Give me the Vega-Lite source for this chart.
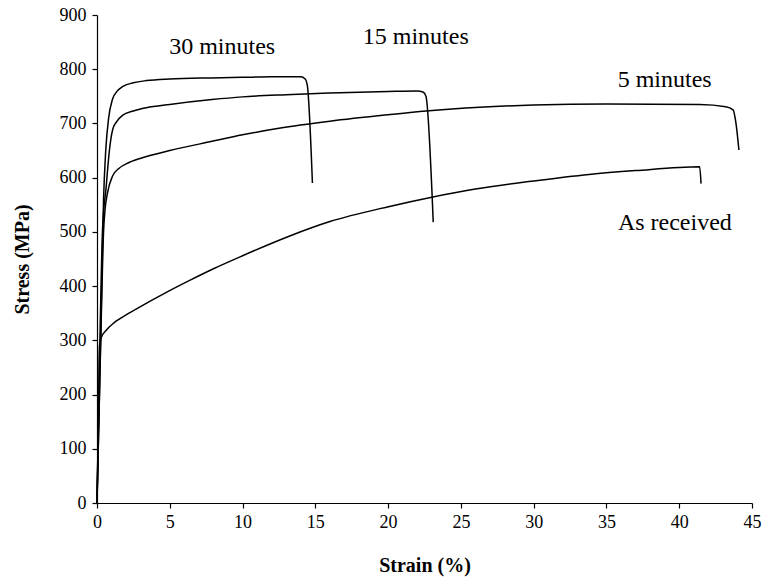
{
  "$schema": "https://vega.github.io/schema/vega-lite/v6.json",
  "width": 655,
  "height": 488,
  "autosize": {"type": "none"},
  "padding": {"left": 97, "top": 15, "right": 13, "bottom": 78},
  "background": "white",
  "config": {
    "view": {"stroke": null},
    "axis": {
      "grid": false,
      "domainColor": "black",
      "domainWidth": 1.2,
      "tickColor": "black",
      "tickWidth": 1.2,
      "tickSize": 5,
      "labelFont": "Times New Roman, Liberation Serif, serif",
      "labelFontSize": 18,
      "labelColor": "black",
      "titleFont": "Times New Roman, Liberation Serif, serif",
      "titleFontSize": 20,
      "titleFontWeight": "bold",
      "titleColor": "black",
      "labelFlush": false,
      "labelOverlap": false
    }
  },
  "datasets": {
    "curves": [
      {"series": "30 minutes", "strain": 0, "stress": 0},
      {"series": "30 minutes", "strain": 0.25, "stress": 300},
      {"series": "30 minutes", "strain": 0.45, "stress": 560},
      {"series": "30 minutes", "strain": 0.6, "stress": 650},
      {"series": "30 minutes", "strain": 0.8, "stress": 710},
      {"series": "30 minutes", "strain": 1.07, "stress": 745},
      {"series": "30 minutes", "strain": 1.4, "stress": 760},
      {"series": "30 minutes", "strain": 1.75, "stress": 768},
      {"series": "30 minutes", "strain": 2.5, "stress": 775},
      {"series": "30 minutes", "strain": 3.4, "stress": 779},
      {"series": "30 minutes", "strain": 5, "stress": 782},
      {"series": "30 minutes", "strain": 7.9, "stress": 784},
      {"series": "30 minutes", "strain": 10, "stress": 785},
      {"series": "30 minutes", "strain": 12, "stress": 786},
      {"series": "30 minutes", "strain": 14.0, "stress": 786},
      {"series": "30 minutes", "strain": 14.3, "stress": 782},
      {"series": "30 minutes", "strain": 14.45, "stress": 770},
      {"series": "30 minutes", "strain": 14.8, "stress": 590},

      {"series": "15 minutes", "strain": 0, "stress": 0},
      {"series": "15 minutes", "strain": 0.2, "stress": 300},
      {"series": "15 minutes", "strain": 0.38, "stress": 504},
      {"series": "15 minutes", "strain": 0.63, "stress": 583},
      {"series": "15 minutes", "strain": 0.85, "stress": 650},
      {"series": "15 minutes", "strain": 1.07, "stress": 688},
      {"series": "15 minutes", "strain": 1.34, "stress": 703},
      {"series": "15 minutes", "strain": 1.75, "stress": 715},
      {"series": "15 minutes", "strain": 2.5, "stress": 723},
      {"series": "15 minutes", "strain": 3.4, "stress": 729},
      {"series": "15 minutes", "strain": 5, "stress": 735},
      {"series": "15 minutes", "strain": 7.9, "stress": 744},
      {"series": "15 minutes", "strain": 10, "stress": 749},
      {"series": "15 minutes", "strain": 13, "stress": 753},
      {"series": "15 minutes", "strain": 16, "stress": 756},
      {"series": "15 minutes", "strain": 20, "stress": 759},
      {"series": "15 minutes", "strain": 22.0, "stress": 760},
      {"series": "15 minutes", "strain": 22.4, "stress": 758},
      {"series": "15 minutes", "strain": 22.6, "stress": 750},
      {"series": "15 minutes", "strain": 23.1, "stress": 518},

      {"series": "5 minutes", "strain": 0, "stress": 0},
      {"series": "5 minutes", "strain": 0.3, "stress": 350},
      {"series": "5 minutes", "strain": 0.45, "stress": 500},
      {"series": "5 minutes", "strain": 0.55, "stress": 540},
      {"series": "5 minutes", "strain": 0.72, "stress": 572},
      {"series": "5 minutes", "strain": 1.07, "stress": 603},
      {"series": "5 minutes", "strain": 1.5, "stress": 617},
      {"series": "5 minutes", "strain": 2.2, "stress": 628},
      {"series": "5 minutes", "strain": 3.4, "stress": 639},
      {"series": "5 minutes", "strain": 5, "stress": 650},
      {"series": "5 minutes", "strain": 7.9, "stress": 667},
      {"series": "5 minutes", "strain": 10, "stress": 679},
      {"series": "5 minutes", "strain": 12.5, "stress": 691},
      {"series": "5 minutes", "strain": 16, "stress": 704},
      {"series": "5 minutes", "strain": 20, "stress": 716},
      {"series": "5 minutes", "strain": 22.6, "stress": 723},
      {"series": "5 minutes", "strain": 26.3, "stress": 730},
      {"series": "5 minutes", "strain": 30, "stress": 734},
      {"series": "5 minutes", "strain": 35, "stress": 736},
      {"series": "5 minutes", "strain": 41.4, "stress": 735},
      {"series": "5 minutes", "strain": 43.2, "stress": 731},
      {"series": "5 minutes", "strain": 43.7, "stress": 725},
      {"series": "5 minutes", "strain": 43.9, "stress": 700},
      {"series": "5 minutes", "strain": 44.1, "stress": 651},

      {"series": "As received", "strain": 0, "stress": 0},
      {"series": "As received", "strain": 0.1, "stress": 150},
      {"series": "As received", "strain": 0.17, "stress": 290},
      {"series": "As received", "strain": 0.3, "stress": 305},
      {"series": "As received", "strain": 0.65, "stress": 319},
      {"series": "As received", "strain": 1.2, "stress": 333},
      {"series": "As received", "strain": 2.2, "stress": 350},
      {"series": "As received", "strain": 3.5, "stress": 370},
      {"series": "As received", "strain": 4.8, "stress": 389},
      {"series": "As received", "strain": 6.4, "stress": 411},
      {"series": "As received", "strain": 8, "stress": 432},
      {"series": "As received", "strain": 10, "stress": 456},
      {"series": "As received", "strain": 13.2, "stress": 492},
      {"series": "As received", "strain": 16, "stress": 519},
      {"series": "As received", "strain": 20.1, "stress": 547},
      {"series": "As received", "strain": 23, "stress": 564},
      {"series": "As received", "strain": 26, "stress": 579},
      {"series": "As received", "strain": 30, "stress": 594},
      {"series": "As received", "strain": 33.8, "stress": 606},
      {"series": "As received", "strain": 37, "stress": 613},
      {"series": "As received", "strain": 41.4, "stress": 620},
      {"series": "As received", "strain": 41.5, "stress": 589}
    ],
    "labels": [
      {"label": "30 minutes", "strain": 8.6, "stress": 841},
      {"label": "15 minutes", "strain": 21.9, "stress": 860},
      {"label": "5 minutes", "strain": 39.0, "stress": 781},
      {"label": "As received", "strain": 39.7, "stress": 517}
    ]
  },
  "layer": [
    {
      "data": {"name": "curves"},
      "mark": {"type": "line", "color": "black", "strokeWidth": 1.5, "interpolate": "monotone"},
      "encoding": {
        "x": {
          "field": "strain",
          "type": "quantitative",
          "scale": {"domain": [0, 45], "nice": false},
          "axis": {
            "title": "Strain (%)",
            "values": [0, 5, 10, 15, 20, 25, 30, 35, 40, 45],
            "labelPadding": 5,
            "titleY": 62,
            "titleBaseline": "middle"
          }
        },
        "y": {
          "field": "stress",
          "type": "quantitative",
          "scale": {"domain": [0, 900], "nice": false},
          "axis": {
            "title": "Stress (MPa)",
            "values": [0, 100, 200, 300, 400, 500, 600, 700, 800, 900],
            "labelPadding": 6,
            "titleX": -75,
            "titleBaseline": "middle"
          }
        },
        "detail": {"field": "series"}
      }
    },
    {
      "data": {"name": "labels"},
      "mark": {"type": "text", "font": "Times New Roman, Liberation Serif, serif", "fontSize": 24, "color": "black"},
      "encoding": {
        "x": {"field": "strain", "type": "quantitative"},
        "y": {"field": "stress", "type": "quantitative"},
        "text": {"field": "label"}
      }
    }
  ]
}
